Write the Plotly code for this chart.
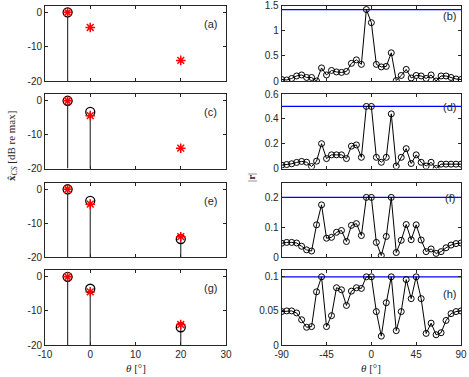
import plotly.graph_objects as go
from plotly.subplots import make_subplots

# ---------------- data ----------------
# left column: true source levels and CS estimates (dB re max)
true_doa = [-5, 0, 20]
true_db = [0, -4.4, -14]
est_doa_a = [-5]
est_db_a = [0]
est_doa_c = [-5, 0]
est_db_c = [0, -3.3]
est_doa_e = [-5, 0, 20]
est_db_e = [0, -3.4, -14.7]
est_doa_g = [-5, 0, 20]
est_db_g = [0, -3.5, -14.8]

# right column: |r| on a 5-degree grid
theta_grid = list(range(-90, 91, 5))
r_b = [0.03, 0.02, 0.05, 0.10, 0.12, 0.07, 0.07, 0.00, 0.26, 0.12,
       0.21, 0.18, 0.17, 0.19, 0.35, 0.42, 0.33, 1.42, 1.16, 0.33,
       0.28, 0.29, 0.56, 0.01, 0.11, 0.23, 0.06, 0.11, 0.10, 0.05,
       0.12, 0.00, 0.10, 0.10, 0.07, 0.04, 0.03]
r_d = [0.027, 0.032, 0.038, 0.049, 0.057, 0.051, 0.016, 0.059, 0.20, 0.08,
       0.11, 0.11, 0.11, 0.08, 0.18, 0.19, 0.09, 0.50, 0.50, 0.09,
       0.05, 0.09, 0.44, 0.02, 0.09, 0.16, 0.04, 0.11, 0.05, 0.02,
       0.05, 0.00, 0.035, 0.035, 0.035, 0.035, 0.035]
r_f = [0.046, 0.049, 0.049, 0.047, 0.036, 0.024, 0.020, 0.108, 0.175, 0.063,
       0.066, 0.083, 0.089, 0.052, 0.106, 0.112, 0.072, 0.200, 0.200, 0.049,
       0.005, 0.069, 0.200, 0.015, 0.056, 0.109, 0.058, 0.108, 0.057, 0.018,
       0.027, 0.012, 0.018, 0.031, 0.040, 0.045, 0.047]
r_h = [0.049, 0.050, 0.050, 0.047, 0.037, 0.026, 0.027, 0.078, 0.100, 0.027,
       0.043, 0.084, 0.081, 0.058, 0.079, 0.084, 0.083, 0.100, 0.100, 0.049,
       0.013, 0.062, 0.100, 0.021, 0.049, 0.096, 0.068, 0.100, 0.068, 0.017,
       0.032, 0.015, 0.018, 0.036, 0.046, 0.049, 0.050]
ref_levels = [1.42, 0.5, 0.2, 0.1]

left_ticks = [-10, 0, 10, 20, 30]
left_yticks = [-20, -10, 0]
right_ticks = [-90, -45, 0, 45, 90]
right_yticks = [[0, 0.5, 1, 1.5], [0, 0.2, 0.4, 0.6], [0, 0.1, 0.2], [0, 0.05, 0.1]]
right_yranges = [[0, 1.5], [0, 0.6], [0, 0.25], [0, 0.11]]
left_labels = ["(a)", "(c)", "(e)", "(g)"]
right_labels = ["(b)", "(d)", "(f)", "(h)"]

# ---------------- layout geometry (pixels) ----------------
W, H = 469, 377
row_top = [5.5, 94, 182.5, 270]
row_bot = [81, 168.5, 257, 345]
left_x = [45, 226]
right_x = [281.7, 461]
left_label_y = [24, 112, 201, 288]
right_label_y = [16, 106.5, 198, 294]

AX = "#262626"
TICKFONT = dict(family="Liberation Sans, Arial, sans-serif", size=10, color=AX)
SERIF = "Liberation Serif, Times New Roman, serif"

fig = make_subplots(rows=4, cols=2)

est_sets = [(est_doa_a, est_db_a), (est_doa_c, est_db_c),
            (est_doa_e, est_db_e), (est_doa_g, est_db_g)]
right_sets = [r_b, r_d, r_f, r_h]


def px_note(px, py, text, font, angle=0):
    fig.add_annotation(x=px / W, y=1 - py / H, xref="paper", yref="paper",
                       xanchor="center", yanchor="middle", text=text,
                       textangle=angle, showarrow=False, font=font)


for i in range(4):
    row = i + 1
    ex, ey = est_sets[i]
    sx, sy = [], []
    for a, b in zip(ex, ey):
        sx += [a, a, None]
        sy += [-20, b, None]
    fig.add_trace(go.Scatter(x=sx, y=sy, mode="lines",
                             line=dict(color="#3a3a3a", width=1.2),
                             showlegend=False, hoverinfo="skip"), row=row, col=1)
    fig.add_trace(go.Scatter(x=ex, y=ey, mode="markers",
                             marker=dict(symbol="circle-open", size=9,
                                         color="black", line=dict(width=1.3)),
                             showlegend=False), row=row, col=1)
    fig.add_trace(go.Scatter(x=true_doa, y=true_db, mode="markers",
                             marker=dict(symbol="asterisk-open", size=8,
                                         color="red", line=dict(width=1.5, color="red")),
                             showlegend=False), row=row, col=1)

    # right
    fig.add_trace(go.Scatter(x=[-90, 90], y=[ref_levels[i], ref_levels[i]], mode="lines",
                             line=dict(color="#0000ff", width=1.2),
                             showlegend=False), row=row, col=2)
    fig.add_trace(go.Scatter(x=theta_grid, y=right_sets[i], mode="lines+markers",
                             line=dict(color="black", width=1),
                             marker=dict(symbol="circle-open", size=6, color="black",
                                         line=dict(width=1)),
                             showlegend=False), row=row, col=2)

    common = dict(showline=True, linecolor=AX, linewidth=1, mirror="ticks",
                  ticks="inside", ticklen=3, tickcolor=AX, tickfont=TICKFONT,
                  showgrid=False, zeroline=False, automargin=False)
    fig.update_xaxes(domain=[left_x[0] / W, left_x[1] / W], range=[-10, 30],
                     tickvals=left_ticks, ticktext=[str(t) for t in left_ticks],
                     showticklabels=(i == 3), row=row, col=1, **common)
    fig.update_xaxes(domain=[right_x[0] / W, right_x[1] / W], range=[-90, 90],
                     tickvals=right_ticks, ticktext=[str(t) for t in right_ticks],
                     showticklabels=(i == 3), row=row, col=2, **common)
    ydom = [1 - row_bot[i] / H, 1 - row_top[i] / H]
    fig.update_yaxes(domain=ydom, range=[-20, 2], tickvals=left_yticks,
                     ticktext=[str(t) for t in left_yticks], row=row, col=1, **common)
    fig.update_yaxes(domain=ydom, range=right_yranges[i], tickvals=right_yticks[i],
                     ticktext=[("%g" % t) for t in right_yticks[i]],
                     row=row, col=2, **common)

    lab_font = dict(family="Liberation Sans, Arial, sans-serif", size=11, color=AX)
    px_note(210.5, left_label_y[i], left_labels[i], lab_font)
    px_note(449.5, right_label_y[i], right_labels[i], lab_font)

# axis titles
title_font = dict(family=SERIF, size=11, color=AX)
px_note(12, 146, "<b>x\u0302</b><sub><i>CS</i></sub> [dB re max]", title_font, -90)
px_note(251, 178, "|<b>r</b>|", title_font, -90)
px_note(135.5, 368, "<i>θ</i> [°]", title_font)
px_note(371, 368, "<i>θ</i> [°]", title_font)

fig.update_layout(template="none", width=W, height=H, margin=dict(l=0, r=0, t=0, b=0),
                  plot_bgcolor="white", paper_bgcolor="white", showlegend=False)

fig.write_html("out.html", config={"displayModeBar": False},
               post_script="document.body.style.margin='0';document.body.style.overflow='hidden';")
